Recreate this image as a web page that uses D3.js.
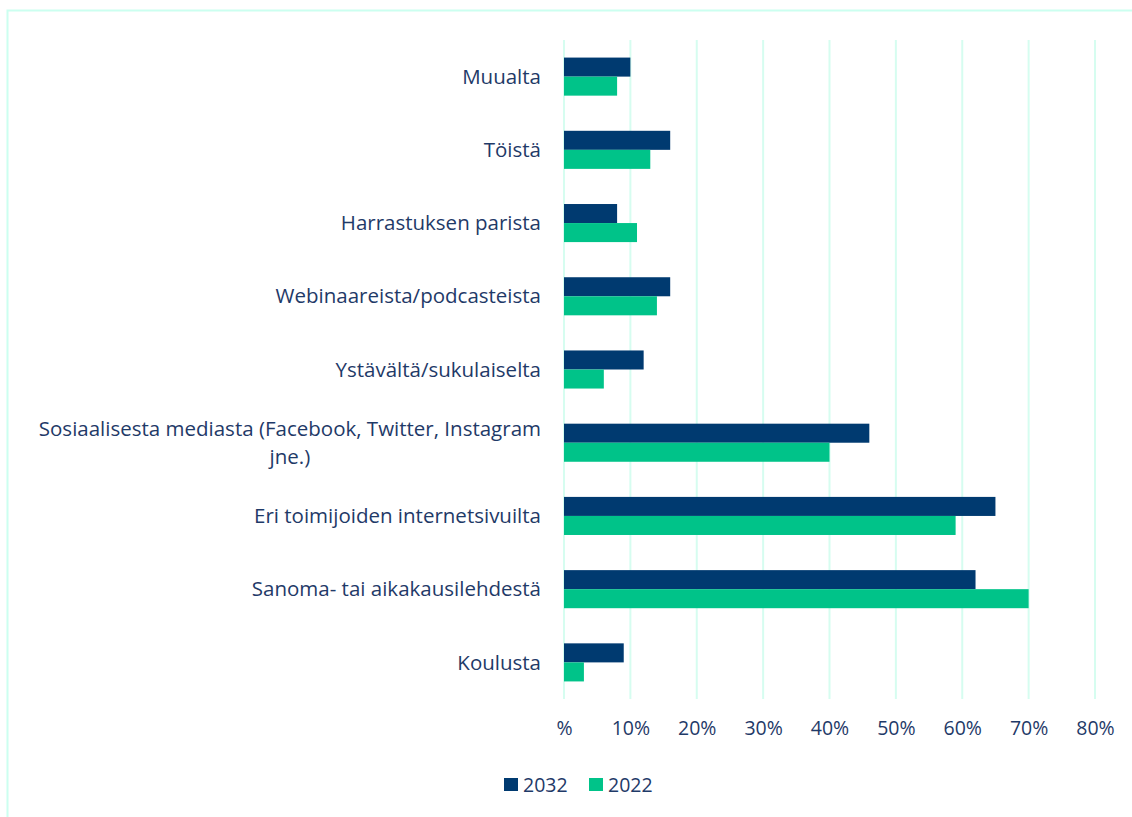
<!DOCTYPE html>
<html>
<head>
<meta charset="utf-8">
<script src="https://cdn.jsdelivr.net/npm/d3@7"></script>
<style>
  body { margin: 0; background: #fff; }
  text { font-family: "Open Sans", Lato, sans-serif; fill: #1f3a68; }
</style>
</head>
<body>
<div id="chart"></div>
<script>
// categories, top to bottom
const categories = [
  "Muualta",
  "Töistä",
  "Harrastuksen parista",
  "Webinaareista/podcasteista",
  "Ystävältä/sukulaiselta",
  "Sosiaalisesta mediasta (Facebook, Twitter, Instagram|jne.)",
  "Eri toimijoiden internetsivuilta",
  "Sanoma- tai aikakausilehdestä",
  "Koulusta"
];
const seriesNames = ["2032", "2022"];
const values2032 = [10, 16, 8, 16, 12, 46, 65, 62, 9];
const values2022 = [8, 13, 11, 14, 6, 40, 59, 70, 3];
const tickValues = [0, 10, 20, 30, 40, 50, 60, 70, 80];
const tickLabels = ["%", "10%", "20%", "30%", "40%", "50%", "60%", "70%", "80%"];
const colors = ["#003a70", "#00c389"];

var W = 1132, H = 817;
var margin = { top: 40, right: 37, bottom: 118, left: 564 },
    width = W - margin.left - margin.right,
    height = H - margin.top - margin.bottom;
var labelSize = 20.5, tickSize = 19.5;

const root = d3.select("#chart")
  .append("svg")
    .attr("width", W)
    .attr("height", H);

// outer frame
root.append("rect")
  .attr("x", 7.5).attr("y", 10.5)
  .attr("width", W).attr("height", H)
  .attr("fill", "none")
  .attr("stroke", "#ccfff0")
  .attr("stroke-width", 2);

const svg = root.append("g")
  .attr("transform", `translate(${margin.left}, ${margin.top})`);

const x = d3.scaleLinear().domain([0, 80]).range([0, width]);
const y = d3.scaleBand().domain(categories).range([0, height]).paddingInner(0.48).paddingOuter(0.24);
const ySub = d3.scaleBand().domain(seriesNames).range([0, y.bandwidth()]);

// gridlines
svg.append("g")
  .selectAll("line")
  .data(tickValues)
  .join("line")
    .attr("x1", d => x(d)).attr("x2", d => x(d))
    .attr("y1", 0).attr("y2", height)
    .attr("stroke", "#d6fdf0")
    .attr("stroke-width", 2);

// x axis labels
const xAxis = d3.axisBottom(x)
  .tickValues(tickValues)
  .tickFormat((d, i) => tickLabels[i])
  .tickSize(0)
  .tickPadding(22);
svg.append("g")
  .attr("transform", `translate(0, ${height})`)
  .call(xAxis)
  .call(g => g.select(".domain").remove())
  .call(g => g.selectAll("text").attr("font-size", tickSize).style("font-family", "'Open Sans', sans-serif").attr("fill", "#1f3a68"));

// bars
const series = [values2032, values2022];
const groups = svg.append("g")
  .selectAll("g")
  .data(series)
  .join("g")
    .attr("fill", (d, i) => colors[i]);

groups.selectAll("rect")
  .data((d, i) => d.map((v, j) => ({ v: v, cat: categories[j], s: seriesNames[i] })))
  .join("rect")
    .attr("x", x(0))
    .attr("y", d => y(d.cat) + ySub(d.s))
    .attr("width", d => x(d.v) - x(0))
    .attr("height", ySub.bandwidth());

// category labels
const labelX = -23;
const labels = svg.append("g")
  .selectAll("text")
  .data(categories)
  .join("text")
    .attr("font-size", labelSize)
    .attr("text-anchor", "end")
    .attr("x", labelX)
    .attr("y", d => y(d) + y.bandwidth() / 2)
    .attr("dy", "0.35em");

labels.each(function(d) {
  const parts = d.split("|");
  const t = d3.select(this);
  if (parts.length === 1) {
    t.text(d);
    return;
  }
  // wrapped label: lines centered on the widest line
  t.attr("text-anchor", "middle");
  const tmp = t.append("tspan").text(parts[0]);
  const w = tmp.node().getComputedTextLength();
  tmp.remove();
  const cx = labelX - w / 2;
  const lineH = 28;
  const y0 = y(d) + y.bandwidth() / 2 - lineH * (parts.length - 1) / 2;
  t.attr("x", cx).attr("y", null).attr("dy", null);
  parts.forEach((p, i) => {
    t.append("tspan")
      .attr("x", cx)
      .attr("y", y0 + i * lineH)
      .attr("dy", "0.35em")
      .text(p);
  });
});

// legend
const legend = root.append("g")
  .attr("transform", "translate(504, 785)");
const items = legend.selectAll("g")
  .data(seriesNames)
  .join("g")
    .attr("transform", (d, i) => `translate(${i * 85}, 0)`);
items.append("rect")
  .attr("x", 0).attr("y", -7)
  .attr("width", 14).attr("height", 13)
  .attr("fill", (d, i) => colors[i]);
items.append("text")
  .attr("x", 19)
  .attr("dy", "0.35em")
  .attr("font-size", tickSize)
  .text(d => d);
</script>
</body>
</html>
